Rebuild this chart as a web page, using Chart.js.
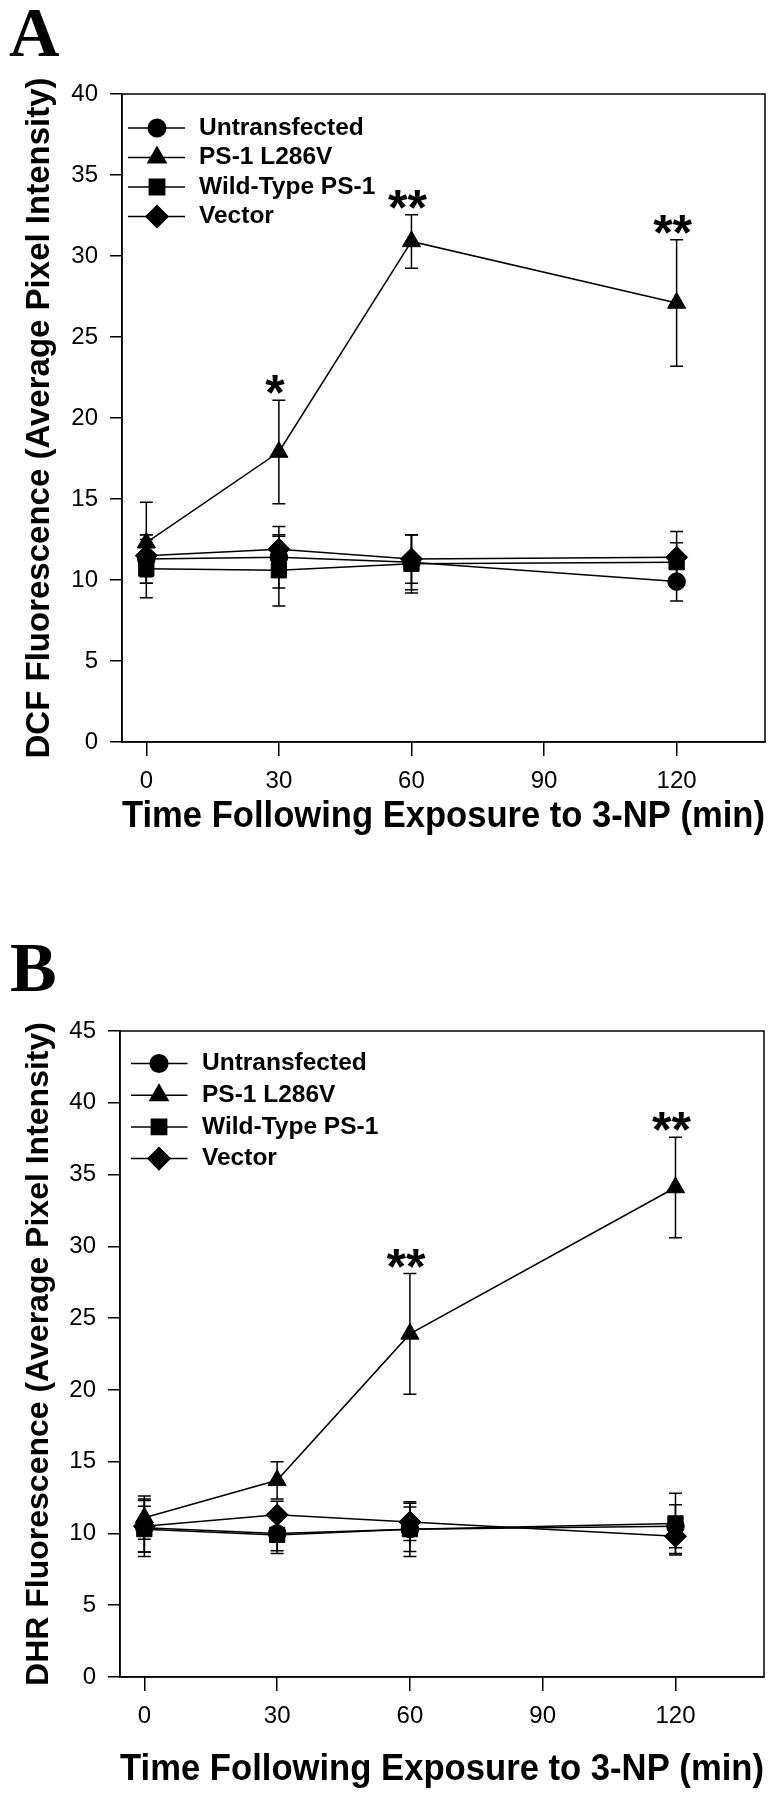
<!DOCTYPE html>
<html>
<head>
<meta charset="utf-8">
<script src="https://cdn.jsdelivr.net/npm/chart.js@4.4.1/dist/chart.umd.min.js"></script>
<style>
  html, body { margin: 0; padding: 0; background: #fff; }
  body { width: 782px; height: 1800px; position: relative; overflow: hidden; }
  canvas { position: absolute; left: 0; }
  .panel-label {
    position: absolute; z-index: 5; color: #000;
    font-family: "Liberation Serif", "Times New Roman", serif;
    font-weight: bold; font-size: 70px; line-height: 70px;
  }
</style>
</head>
<body>
<canvas id="chartA" width="782" height="860" style="top:0px"></canvas>
<canvas id="chartB" width="782" height="860" style="top:940px"></canvas>
<div class="panel-label" style="left:9px; top:-2px;">A</div>
<div class="panel-label" style="left:10px; top:933px;">B</div>
<script>
// ---------------- data ----------------
const timePoints = [0, 30, 60, 120];
const xTickValues = [0, 30, 60, 90, 120];
const seriesNames = ['Untransfected', 'PS-1 L286V', 'Wild-Type PS-1', 'Vector'];
const xAxisTitle = 'Time Following Exposure to 3-NP (min)';

// Panel A : DCF fluorescence
const dcfTitle = 'DCF Fluorescence (Average Pixel Intensity)';
const dcfYTicks = [0, 5, 10, 15, 20, 25, 30, 35, 40];
const dcfUntransfected    = [11.3, 11.4, 11.1, 9.9];
const dcfUntransfectedErr = [1.5, 1.9, 1.7, 1.2];
const dcfL286V            = [12.3, 17.9, 30.9, 27.1];
const dcfL286VErr         = [2.5, 3.2, 1.65, 3.9];
const dcfWildType         = [10.7, 10.6, 11.0, 11.1];
const dcfWildTypeErr      = [1.8, 2.2, 1.8, 1.2];
const dcfVector           = [11.5, 11.9, 11.3, 11.4];
const dcfVectorErr        = [1.3, 0.8, 1.5, 1.6];
const dcfSignificance     = ['', '*', '**', '**'];

// Panel B : DHR fluorescence
const dhrTitle = 'DHR Fluorescence (Average Pixel Intensity)';
const dhrYTicks = [0, 5, 10, 15, 20, 25, 30, 35, 40, 45];
const dhrUntransfected    = [10.4, 10.0, 10.3, 10.5];
const dhrUntransfectedErr = [2.0, 1.2, 1.9, 1.5];
const dhrL286V            = [11.1, 13.7, 23.9, 34.1];
const dhrL286VErr         = [1.5, 1.3, 4.2, 3.5];
const dhrWildType         = [10.3, 9.9, 10.3, 10.7];
const dhrWildTypeErr      = [1.6, 1.3, 1.55, 2.1];
const dhrVector           = [10.5, 11.3, 10.8, 9.8];
const dhrVectorErr        = [1.8, 0.95, 1.3, 1.3];
const dhrSignificance     = ['', '', '**', '**'];

// ---------------- styling ----------------
const SANS = '"Liberation Sans", Arial, Helvetica, sans-serif';
const markerStyles = ['circle', 'triangle', 'rect', 'rectRot'];
const markerRadii  = [8.8, 10.5, 10.8, 11];

function drawMarker(ctx, style, r, x, y) {
  if (Chart.helpers && Chart.helpers.drawPoint) {
    Chart.helpers.drawPoint(ctx, {pointStyle: style, radius: r, rotation: 0, borderWidth: 1}, x, y);
    return;
  }
  ctx.beginPath();
  if (style === 'circle') ctx.arc(x, y, r, 0, Math.PI * 2);
  else if (style === 'triangle') { ctx.moveTo(x, y - r); ctx.lineTo(x + 0.866 * r, y + 0.5 * r); ctx.lineTo(x - 0.866 * r, y + 0.5 * r); }
  else if (style === 'rect') { const s = r * Math.SQRT1_2; ctx.rect(x - s, y - s, 2 * s, 2 * s); }
  else { ctx.moveTo(x - r, y); ctx.lineTo(x, y - r); ctx.lineTo(x + r, y); ctx.lineTo(x, y + r); }
  ctx.closePath(); ctx.fill(); ctx.stroke();
}

const errorBarPlugin = {
  id: 'errorBars',
  beforeDatasetsDraw(chart) {
    const ctx = chart.ctx, xs = chart.scales.x, ys = chart.scales.y;
    ctx.save();
    ctx.strokeStyle = '#000'; ctx.lineWidth = 1.5;
    chart.data.datasets.forEach(ds => {
      ds.data.forEach((p, j) => {
        const e = ds.errors[j];
        const x = xs.getPixelForValue(p.x);
        const yt = ys.getPixelForValue(p.y + e);
        const yb = ys.getPixelForValue(p.y - e);
        ctx.beginPath();
        ctx.moveTo(x, yt); ctx.lineTo(x, yb);
        ctx.moveTo(x - 6.5, yt); ctx.lineTo(x + 6.5, yt);
        ctx.moveTo(x - 6.5, yb); ctx.lineTo(x + 6.5, yb);
        ctx.stroke();
      });
    });
    ctx.restore();
  },
  afterDatasetsDraw(chart, args, opts) {
    const ctx = chart.ctx, xs = chart.scales.x, ys = chart.scales.y;
    const ds = chart.data.datasets[opts.seriesIndex];
    ctx.save();
    ctx.fillStyle = '#000';
    ctx.font = 'bold 50px ' + SANS;
    ctx.textAlign = 'center';
    ctx.textBaseline = 'alphabetic';
    opts.marks.forEach((m, j) => {
      if (!m) return;
      const p = ds.data[j];
      const x = xs.getPixelForValue(p.x) - 4;
      const top = ys.getPixelForValue(p.y + ds.errors[j]);
      const met = ctx.measureText(m);
      const base = top - 6 - met.actualBoundingBoxDescent;
      ctx.fillText(m, x, base);
    });
    ctx.restore();
  }
};

const framePlugin = {
  id: 'frame',
  afterDraw(chart) {
    const a = chart.chartArea, ctx = chart.ctx;
    ctx.save();
    ctx.strokeStyle = '#000'; ctx.lineWidth = 1.5;
    ctx.strokeRect(a.left, a.top, a.right - a.left, a.bottom - a.top);
    ctx.restore();
  }
};

const lineLegendPlugin = {
  id: 'lineLegend',
  afterDraw(chart, args, o) {
    const ctx = chart.ctx, a = chart.chartArea;
    ctx.save();
    chart.data.datasets.forEach((ds, i) => {
      const y = a.top + o.top + i * o.gap;
      ctx.strokeStyle = '#000'; ctx.lineWidth = 1.5;
      ctx.beginPath();
      ctx.moveTo(a.left + o.x0, y); ctx.lineTo(a.left + o.x1, y);
      ctx.stroke();
      ctx.fillStyle = '#000';
      drawMarker(ctx, ds.pointStyle, ds.pointRadius, a.left + o.marker, y);
      ctx.font = 'bold 24.5px ' + SANS;
      ctx.textAlign = 'left'; ctx.textBaseline = 'middle';
      ctx.fillText(ds.label, a.left + o.text, y);
    });
    ctx.restore();
  }
};

function makeChart(id, p) {
  const datasets = p.values.map((vals, i) => ({
    label: seriesNames[i],
    data: timePoints.map((t, j) => ({x: t, y: vals[j]})),
    errors: p.errors[i],
    borderColor: '#000', backgroundColor: '#000', borderWidth: 1.5,
    pointStyle: markerStyles[i], pointRadius: markerRadii[i],
    pointBackgroundColor: '#000', pointBorderColor: '#000', pointBorderWidth: 1,
    tension: 0, fill: false, clip: false
  }));
  const axisCommon = {
    grid: {display: true, drawOnChartArea: false, drawTicks: true, color: '#000', lineWidth: 1.5},
    border: {display: true, color: '#000', width: 1.5}
  };
  return new Chart(document.getElementById(id), {
    type: 'line',
    data: {datasets},
    plugins: [errorBarPlugin, framePlugin, lineLegendPlugin],
    options: {
      responsive: false, animation: false, devicePixelRatio: 1,
      layout: {padding: {top: p.top, right: p.right, left: 0, bottom: 0}},
      plugins: {
        legend: {display: false}, tooltip: {enabled: false},
        errorBars: {seriesIndex: 1, marks: p.sig},
        lineLegend: p.legend
      },
      scales: {
        x: {
          type: 'linear', min: -5.5, max: 140,
          afterFit(s) { s.height = p.xAxisHeight; },
          afterBuildTicks(s) { s.ticks = xTickValues.map(v => ({value: v})); },
          grid: Object.assign({}, axisCommon.grid, {tickLength: 14}),
          border: axisCommon.border,
          ticks: {color: '#000', font: {family: SANS, size: 24}, padding: 11, maxRotation: 0, autoSkip: false},
          title: {display: true, text: xAxisTitle, color: '#000',
                  font: {family: SANS, size: 36, weight: 'bold'},
                  padding: {top: 0, bottom: p.xTitlePad}}
        },
        y: {
          type: 'linear', min: 0, max: p.yTicks[p.yTicks.length - 1],
          afterFit(s) { s.width = p.yAxisWidth; },
          afterBuildTicks(s) { s.ticks = p.yTicks.map(v => ({value: v})); },
          grid: Object.assign({}, axisCommon.grid, {tickLength: 12}),
          border: axisCommon.border,
          ticks: {color: '#000', font: {family: SANS, size: 24}, padding: 12},
          title: {display: true, text: p.yTitle, color: '#000',
                  font: {family: SANS, size: p.yTitleSize, weight: 'bold'},
                  padding: {top: 20, bottom: 0}}
        }
      }
    }
  });
}

makeChart('chartA', {
  values: [dcfUntransfected, dcfL286V, dcfWildType, dcfVector],
  errors: [dcfUntransfectedErr, dcfL286VErr, dcfWildTypeErr, dcfVectorErr],
  sig: dcfSignificance, yTicks: dcfYTicks, yTitle: dcfTitle, yTitleSize: 33,
  top: 94, right: 17, yAxisWidth: 122, xAxisHeight: 118, xTitlePad: 21,
  legend: {x0: 6, x1: 63, marker: 35, text: 77, top: 34, gap: 29.5}
});

makeChart('chartB', {
  values: [dhrUntransfected, dhrL286V, dhrWildType, dhrVector],
  errors: [dhrUntransfectedErr, dhrL286VErr, dhrWildTypeErr, dhrVectorErr],
  sig: dhrSignificance, yTicks: dhrYTicks, yTitle: dhrTitle, yTitleSize: 32,
  top: 91, right: 18, yAxisWidth: 120, xAxisHeight: 123, xTitlePad: 8,
  legend: {x0: 11, x1: 67.5, marker: 39, text: 82, top: 32.5, gap: 31.7}
});
</script>
</body>
</html>
